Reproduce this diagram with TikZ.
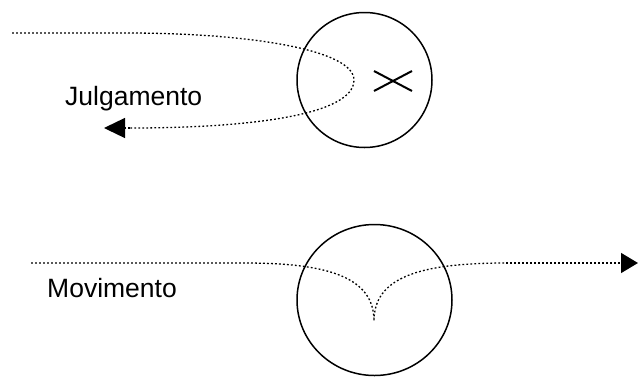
\documentclass[tikz,border=0pt]{standalone}
\usepackage{fontspec}
\setmainfont{Liberation Sans}
\usetikzlibrary{arrows.meta,shapes.geometric}
\begin{document}
\begin{tikzpicture}[x=1pt,y=-1pt,
  ring/.style={draw, line width=1.5pt, inner sep=0pt},
  flow/.style={line width=1.3pt, dash pattern=on 1.8pt off 2.2pt},
  lbl/.style={anchor=base west, inner sep=0pt, font=\fontsize{26.5}{31}\selectfont},
  crossline/.style={line width=2pt}
]
\useasboundingbox (0,0) rectangle (638,376);
% top: Julgamento
\node[ring, circle, minimum size=135pt] (c1) at (364.5,80) {};
\coordinate (js) at (12,33);
\coordinate (jj) at (127,33);
\coordinate (jv) at (354,80);
\coordinate (jk) at (130,128);
\coordinate (je) at (104,128);
\draw[flow] (js) -- (jj) .. controls (250,33) and (354,50) .. (jv)
  .. controls (354,115) and (250,128) .. (jk);
\draw[flow, -{Triangle[length=21pt,width=20pt]}] (jk) -- (je);
\draw[crossline] (374,71) -- (412,91);
\draw[crossline] (374,91) -- (412,71);
\node[lbl] (jl) at (65,105) {Julgamento};
% bottom: Movimento
\node[ring, ellipse, minimum width=155pt, minimum height=151pt] (c2) at (374.5,300) {};
\coordinate (ms) at (31,263);
\coordinate (mj) at (245,263);
\coordinate (mc) at (374,321);
\coordinate (mk) at (506,263);
\coordinate (me) at (638,263);
\draw[flow] (ms) -- (mj) .. controls (330,263) and (374,278) .. (mc)
  .. controls (374,278) and (418,263) .. (mk);
\draw[flow, -{Triangle[length=17pt,width=20pt]}] (mk) -- (me);
\node[lbl] (ml) at (47,297) {Movimento};
\end{tikzpicture}
\end{document}
